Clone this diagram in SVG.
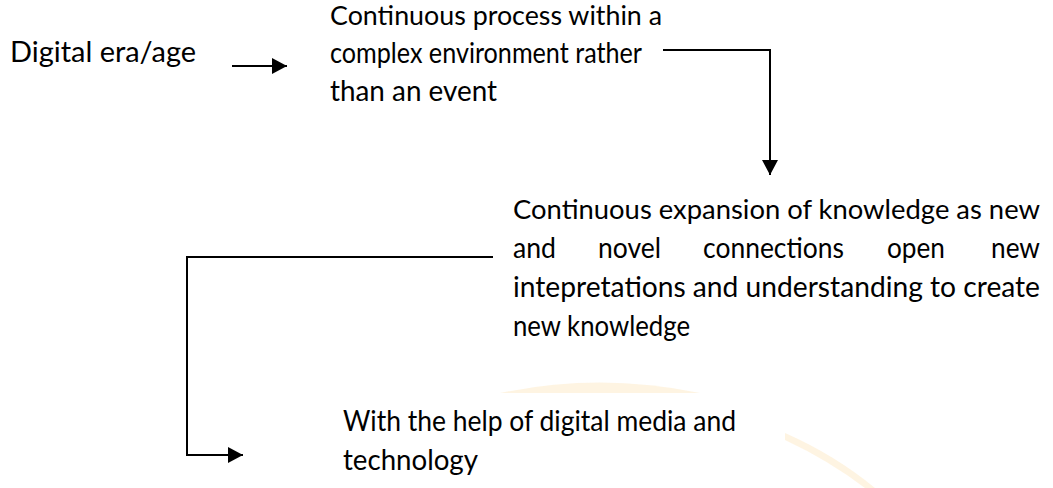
<svg xmlns="http://www.w3.org/2000/svg" width="1053" height="488" viewBox="0 0 1053 488">
<style>
.t{font-family:Lato,"Carlito","Open Sans","Liberation Sans",sans-serif;font-size:28.5px;fill:#000}
.s{font-size:27.5px}
.c{fill:none;stroke:#000;stroke-width:2}
.w{fill:#fbd9a0}
</style>
<defs>
<marker id="ah" markerWidth="16" markerHeight="16" refX="15" refY="8" orient="auto" markerUnits="userSpaceOnUse">
<path d="M0,0 L15,8 L0,16 Z" fill="#000"/>
</marker>
</defs>
<rect width="1053" height="488" fill="#fff"/>
<g id="watermark" opacity="0.3">
<path class="w" d="M500,393 Q600,372 700,393 Z"/>
<path class="w" d="M785,433 Q835,455 875,488 L865,488 Q828,460 785,440 Z"/>
</g>
<g id="connectors">
<path class="c" d="M232,66 L287,66" marker-end="url(#ah)"/>
<path class="c" d="M663,50 L770,50 L770,175" marker-end="url(#ah)"/>
<path class="c" d="M493,257 L187,257 L187,455 L243,455" marker-end="url(#ah)"/>
</g>
<g id="node-digital">
<text class="t" x="10" y="62" textLength="186" lengthAdjust="spacingAndGlyphs">Digital era/age</text>
</g>
<g id="node-process">
<text class="t s" x="330" y="25" textLength="332" lengthAdjust="spacingAndGlyphs">Continuous process within a</text>
<text class="t" x="330" y="63" textLength="312" lengthAdjust="spacingAndGlyphs">complex environment rather</text>
<text class="t" x="330" y="101" textLength="167" lengthAdjust="spacingAndGlyphs">than an event</text>
</g>
<g id="node-expansion">
<text class="t s" x="513" y="219" textLength="527" lengthAdjust="spacingAndGlyphs">Continuous expansion of knowledge as new</text>
<text class="t" x="513" y="258" textLength="43" lengthAdjust="spacingAndGlyphs">and</text>
<text class="t" x="598" y="258" textLength="63" lengthAdjust="spacingAndGlyphs">novel</text>
<text class="t" x="703" y="258" textLength="141" lengthAdjust="spacingAndGlyphs">connections</text>
<text class="t" x="887" y="258" textLength="58" lengthAdjust="spacingAndGlyphs">open</text>
<text class="t" x="991" y="258" textLength="49" lengthAdjust="spacingAndGlyphs">new</text>
<text class="t" x="513" y="297" textLength="527" lengthAdjust="spacingAndGlyphs">intepretations and understanding to create</text>
<text class="t" x="513" y="336" textLength="177" lengthAdjust="spacingAndGlyphs">new knowledge</text>
</g>
<g id="node-media">
<text class="t" x="343" y="431" textLength="393" lengthAdjust="spacingAndGlyphs">With the help of digital media and</text>
<text class="t" x="343" y="470" textLength="135" lengthAdjust="spacingAndGlyphs">technology</text>
</g>
</svg>
